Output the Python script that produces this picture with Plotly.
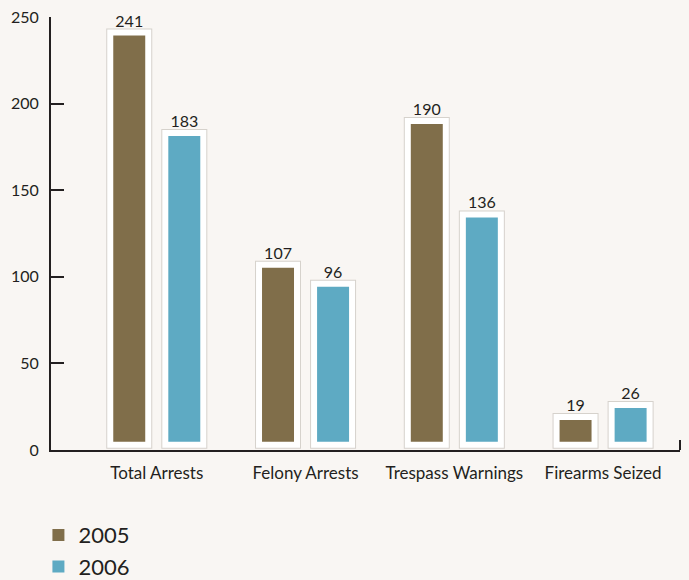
import plotly.graph_objects as go

categories = ["Total Arrests", "Felony Arrests", "Trespass Warnings", "Firearms Seized"]
series_names = ["2005", "2006"]
values_2005 = [241, 107, 190, 19]
values_2006 = [183, 96, 136, 26]
y_ticks = [0, 50, 100, 150, 200, 250]

colors = {"2005": "#806e4a", "2006": "#5eaac3"}
TEXT = "#231f20"
FONT = "Lato"
BASE = 3  # bars float slightly above the baseline as in the original

fig = go.Figure()
for name, vals in zip(series_names, [values_2005, values_2006]):
    # subtle shadow ring around the white frame
    fig.add_trace(go.Bar(
        x=categories, y=[v - BASE for v in vals], base=BASE,
        offsetgroup=name, showlegend=False, hoverinfo="skip",
        marker=dict(color="rgba(0,0,0,0)", line=dict(color="rgba(90,80,70,0.22)", width=8)),
        cliponaxis=False,
    ))
    fig.add_trace(go.Bar(
        x=categories, y=[v - BASE for v in vals], base=BASE,
        offsetgroup=name, showlegend=False, name=name,
        marker=dict(color=colors[name], line=dict(color="white", width=6)),
        text=[str(v) for v in vals], textposition="outside",
        textfont=dict(family=FONT, size=16, color=TEXT),
        cliponaxis=False,
    ))
    # legend entry
    fig.add_trace(go.Bar(
        x=[None], y=[None], name=name, offsetgroup=name,
        marker=dict(color=colors[name], line=dict(width=0)),
    ))

fig.update_layout(
    width=689, height=580,
    margin=dict(l=51, r=9, t=17, b=130, autoexpand=False),
    paper_bgcolor="#f9f6f3", plot_bgcolor="rgba(0,0,0,0)",
    barmode="group", bargap=0.26, bargroupgap=0.31,
    font=dict(family=FONT, color=TEXT, size=16),
    showlegend=True,
    legend=dict(x=-0.02, xanchor="left", y=-0.148, yanchor="top",
                font=dict(family=FONT, size=22, color=TEXT),
                bgcolor="rgba(0,0,0,0)", itemwidth=30, tracegroupgap=0),
    xaxis=dict(range=[-0.711, 3.517], showline=True, linecolor=TEXT, linewidth=2,
               ticks="", showgrid=False, zeroline=False,
               tickfont=dict(family=FONT, size=17, color=TEXT), ticklabelstandoff=7),
    yaxis=dict(range=[0, 250], tickvals=y_ticks, showline=True, linecolor=TEXT, linewidth=2,
               ticks="inside", ticklen=13, tickwidth=2, tickcolor=TEXT,
               showgrid=False, zeroline=False,
               tickfont=dict(family=FONT, size=16, color=TEXT), ticklabelstandoff=7),
    shapes=[dict(type="line", xref="paper", yref="paper", x0=1, x1=1, y0=0, y1=0.023,
                 line=dict(color=TEXT, width=2))],
)

fig.write_html(
    "out.html",
    config={"displayModeBar": False},
    post_script="document.body.style.margin='0';document.body.style.overflow='hidden';",
)
